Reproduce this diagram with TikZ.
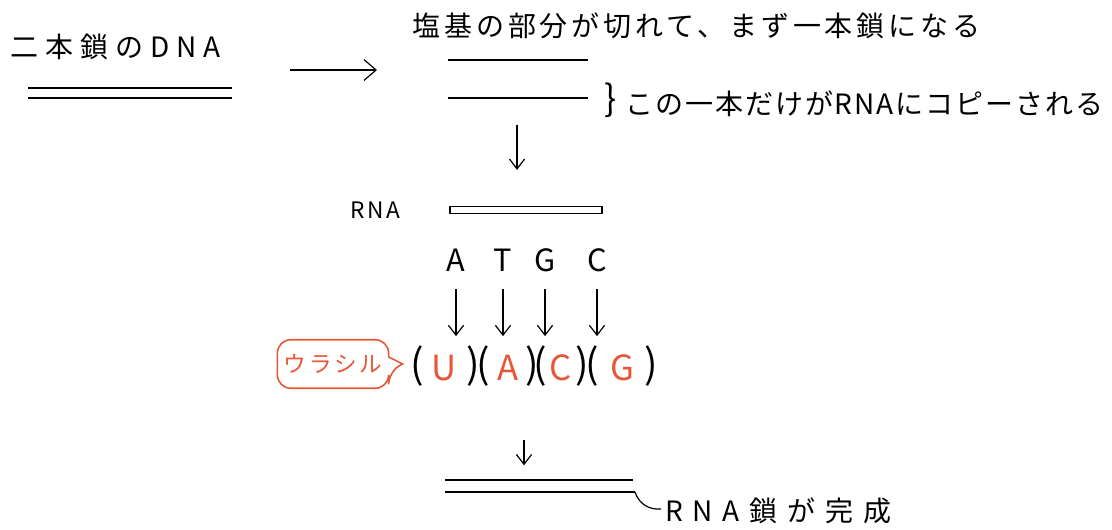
\documentclass[tikz,border=0pt]{standalone}
\usepackage{fontspec}
\setmainfont{Noto Sans CJK JP}[LetterSpace=12]
\usetikzlibrary{arrows.meta, calc}
\definecolor{uracil}{RGB}{232,86,56}

\begin{document}
\begin{tikzpicture}[
        x=0.75pt, y=-0.75pt,
        lbl/.style={font=\fontsize{21}{25}\selectfont, inner sep=0pt, anchor=west},
        tag/.style={font=\fontsize{17}{20}\selectfont, inner sep=0pt, anchor=west},
        letter/.style={font=\fontsize{23}{27}\selectfont, inner sep=1pt},
        base/.style={font=\fontsize{26}{30}\selectfont, inner sep=0pt, text=uracil},
        paren/.style={font=\fontsize{30}{34}\selectfont, inner sep=0pt},
        strand/.style={line width=1.3pt},
        flow/.style={-{Straight Barb[length=2.6mm, width=4mm]}, line width=0.9pt},
        bubble/.style={draw=uracil, line width=1.2pt},
    ]
    \useasboundingbox (0,0) rectangle (1112,529);

    % double strand DNA
    \node[lbl, font=\fontsize{21}{25}\selectfont\addfontfeatures{LetterSpace=25}] (dna) at (10,47) {二本鎖のDNA};
    \coordinate (d1l) at (28,88);  \coordinate (d1r) at (232,88);
    \coordinate (d2l) at (28,98);  \coordinate (d2r) at (232,98);
    \draw[strand] (d1l) -- (d1r);
    \draw[strand] (d2l) -- (d2r);
    \coordinate (go1) at (290,70);
    \coordinate (go2) at (377,70);
    \draw[-{Straight Barb[length=3.2mm, width=5.5mm]}, line width=0.9pt] (go1) -- (go2);

    % separated strands
    \node[lbl, font=\fontsize{21}{25}\selectfont\addfontfeatures{LetterSpace=14}] (split) at (412,26) {塩基の部分が切れて、まず一本鎖になる};
    \coordinate (s1l) at (448,60);  \coordinate (s1r) at (588,60);
    \coordinate (s2l) at (448,98);  \coordinate (s2r) at (588,98);
    \draw[strand] (s1l) -- (s1r);
    \draw[strand] (s2l) -- (s2r);
    \node[font=\fontsize{27}{30}\selectfont, inner sep=0pt] (brace) at (611,100) {\}};
    \node[lbl, font=\fontsize{21}{25}\selectfont\addfontfeatures{LetterSpace=7}] (copy) at (625,104) {この一本だけがRNAにコピーされる};
    \coordinate (s2m) at (517,98);

    % RNA
    \node[tag] (rnalbl) at (350,210) {RNA};
    \node[draw, line width=1.2pt, minimum width=114pt, minimum height=5pt, inner sep=0pt] (rnabar) at (526,210) {};
    \draw[flow, shorten <=20pt, shorten >=27pt] (s2m) -- (s2m |- rnabar.north);

    % bases
    \node[letter] (tA) at (456,260) {A};
    \node[letter] (tT) at (503,260) {T};
    \node[letter] (tG) at (545,260) {G};
    \node[letter] (tC) at (597,260) {C};
    \node[base] (bU) at (444,368) {U};
    \node[base] (bA) at (508,368) {A};
    \node[base] (bC) at (561,368) {C};
    \node[base] (bG) at (622,368) {G};
    \foreach \x [count=\i] in {417, 473, 483, 532, 540, 582, 592, 651}
        \node[paren] (p\i) at (\x,366) {\ifodd\i(\else)\fi};
    \foreach \t in {tA, tT, tG, tC}
        \draw[flow, shorten <=12pt, shorten >=14pt] (\t.south) -- (\t.south |- bU.north);

    % uracil callout
    \node[font=\fontsize{17}{20}\selectfont, text=uracil, minimum width=83pt, minimum height=36pt, inner sep=0pt] (ura) at (333,364) {ウラシル};
    \draw[bubble] ($(ura.east)+(0,-7)$) [rounded corners=10pt] -- (ura.north east) -- (ura.north west)
        -- (ura.south west) -- (ura.south east) -- ($(ura.east)+(0,7)$) [sharp corners]
        -- ($(ura.east)+(14,0)$) -- cycle;

    % finished RNA strand
    \coordinate (f0) at (524,420);
    \coordinate (f1l) at (445,480);  \coordinate (f1r) at (633,480);
    \coordinate (f2l) at (445,492);  \coordinate (f2r) at (635,492);
    \draw[flow, shorten <=15pt, shorten >=11pt] (f0) -- (f0 |- f1l);
    \draw[strand] (f1l) -- (f1r);
    \draw[strand] (f2l) -- (f2r);
    \node[lbl, font=\fontsize{21}{25}\selectfont\addfontfeatures{LetterSpace=35}] (done) at (665,511) {RNA鎖が完成};
    \draw[line width=0.9pt] (f2r) .. controls ($(f2r)+(4,12)$) and ($(f2r)+(14,18)$) .. ($(done.west)+(-4,-2)$);
\end{tikzpicture}
\end{document}
